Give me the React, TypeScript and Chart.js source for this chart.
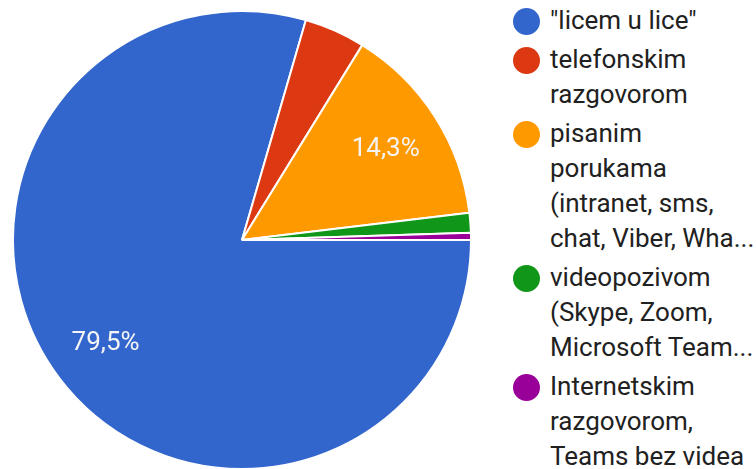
import React, { useEffect, useRef } from "react";
import { Chart, registerables } from "chart.js";

Chart.register(...registerables);

const categories: string[][] = [
  ['"licem u lice"'],
  ["telefonskim", "razgovorom"],
  ["pisanim", "porukama", "(intranet, sms,", "chat, Viber, Wha..."],
  ["videopozivom", "(Skype, Zoom,", "Microsoft Team..."],
  ["Internetskim", "razgovorom,", "Teams bez videa"],
];
const values: number[] = [79.5, 4.3, 14.3, 1.4, 0.5];
const percentLabels: string[] = ["79,5%", "4,3%", "14,3%", "1,4%", "0,5%"];
const colors: string[] = ["#3366cc", "#dc3912", "#ff9900", "#109618", "#990099"];

const sliceLabelPlugin = {
  id: "sliceLabels",
  afterDatasetsDraw(chart: any) {
    const ctx = chart.ctx;
    const meta = chart.getDatasetMeta(0);
    ctx.save();
    ctx.font = "26px Roboto";
    ctx.fillStyle = "#f4f4f4";
    ctx.textAlign = "center";
    ctx.textBaseline = "middle";
    meta.data.forEach((arc: any, i: number) => {
      if (values[i] < 5) return;
      const p = arc.getProps(["x", "y", "startAngle", "endAngle", "outerRadius"], true);
      const mid = (p.startAngle + p.endAngle) / 2;
      const r = p.outerRadius * 0.745;
      ctx.fillText(percentLabels[i], p.x + Math.cos(mid) * r, p.y + Math.sin(mid) * r + 1);
    });
    ctx.restore();
  },
};

export default function App() {
  const ref = useRef<HTMLCanvasElement | null>(null);
  useEffect(() => {
    if (!ref.current) return;
    const chart = new Chart(ref.current, {
      type: "pie",
      data: {
        labels: categories.map((c) => c.join(" ")),
        datasets: [
          {
            data: values,
            backgroundColor: colors,
            borderColor: "#ffffff",
            borderWidth: 2,
            hoverOffset: 0,
          },
        ],
      },
      options: {
        animation: false,
        responsive: true,
        maintainAspectRatio: false,
        rotation: 90,
        layout: { padding: 0 },
        plugins: {
          legend: { display: false },
          tooltip: { enabled: false },
        },
      },
      plugins: [sliceLabelPlugin],
    });
    return () => chart.destroy();
  }, []);

  return (
    <div
      style={{
        position: "absolute",
        left: 0,
        top: 0,
        width: 756,
        height: 469,
        background: "#ffffff",
        overflow: "hidden",
        fontFamily: "Roboto",
      }}
    >
      <div style={{ position: "absolute", left: 12, top: 10, width: 460, height: 460 }}>
        <canvas ref={ref} />
      </div>
      <div style={{ position: "absolute", left: 513, top: 3 }}>
        {categories.map((lines, i) => (
          <div key={i} style={{ position: "relative", paddingLeft: 37, marginBottom: 4 }}>
            <span
              style={{
                position: "absolute",
                left: 0,
                top: 5,
                width: 27,
                height: 27,
                borderRadius: "50%",
                background: colors[i],
              }}
            />
            {lines.map((l, j) => (
              <div key={j} style={{ fontSize: 26, lineHeight: "35px", color: "#212121", whiteSpace: "nowrap" }}>
                {l}
              </div>
            ))}
          </div>
        ))}
      </div>
    </div>
  );
}
